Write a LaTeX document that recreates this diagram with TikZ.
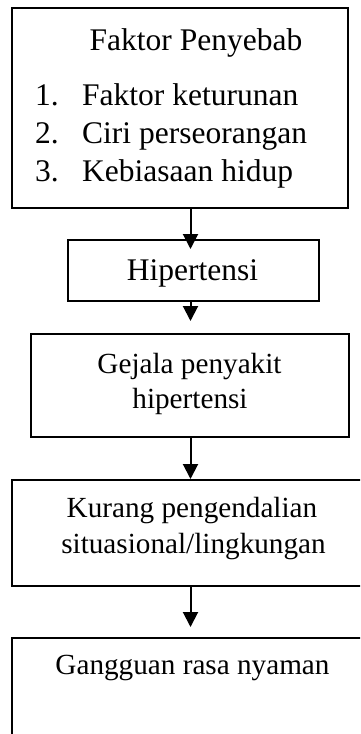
\documentclass[tikz,border=0pt]{standalone}
\usepackage{fontspec}
\setmainfont{Liberation Serif}
\usetikzlibrary{arrows.meta}
\begin{document}
\begin{tikzpicture}[x=1pt,y=-1pt,
  box/.style={draw=black,line width=2pt,minimum width=#1,inner sep=0pt,outer sep=0pt,rectangle},
  txt/.style={anchor=base,inner sep=0pt,font=\fontsize{31.5}{36}\selectfont},
  txts/.style={anchor=base,inner sep=0pt,font=\fontsize{29.2}{34}\selectfont},
  arr/.style={line width=2pt,-{Triangle[length=15pt,width=15pt]}}]
\useasboundingbox (0,0) rectangle (360,734);
\clip (0,0) rectangle (360,734);
% boxes
\node[box=336pt,minimum height=200pt] (b1) at (180,108) {};
\node[box=251pt,minimum height=61pt] (b2) at (193.5,270.5) {};
\node[box=318pt,minimum height=103pt] (b3) at (190,385.5) {};
\node[box=370pt,minimum height=106pt] (b4) at (197,533) {};
\node[box=370pt,minimum height=140pt] (b5) at (197,708) {};
% texts
\node[txt] (t1) at (196,50) {Faktor Penyebab};
\node[txt,anchor=base west] (n1) at (35,105) {1.};
\node[txt,anchor=base west] (l1) at (82,105) {Faktor keturunan};
\node[txt,anchor=base west] (n2) at (35,143) {2.};
\node[txt,anchor=base west] (l2) at (82,143) {Ciri perseorangan};
\node[txt,anchor=base west] (n3) at (35,181) {3.};
\node[txt,anchor=base west] (l3) at (82,181) {Kebiasaan hidup};
\node[txt] (t2) at (192.5,280) {Hipertensi};
\node[txts] (t3a) at (189.5,373) {Gejala penyakit};
\node[txts] (t3b) at (190,408) {hipertensi};
\node[txts] (t4a) at (192,517) {Kurang pengendalian};
\node[txts] (t4b) at (193.5,553) {situasional/lingkungan};
\node[txts] (t5) at (192.5,674) {Gangguan rasa nyaman};
% arrow tips
\coordinate (a1) at (190.5,249);
\coordinate (a2) at (190.5,321);
\coordinate (a3) at (190.5,479);
\coordinate (a4) at (190.5,627);
\draw[arr] (b1.south -| a1) -- (a1);
\draw[arr] (b2.south -| a2) -- (a2);
\draw[arr] (b3.south -| a3) -- (a3);
\draw[arr] (b4.south -| a4) -- (a4);
\end{tikzpicture}
\end{document}
